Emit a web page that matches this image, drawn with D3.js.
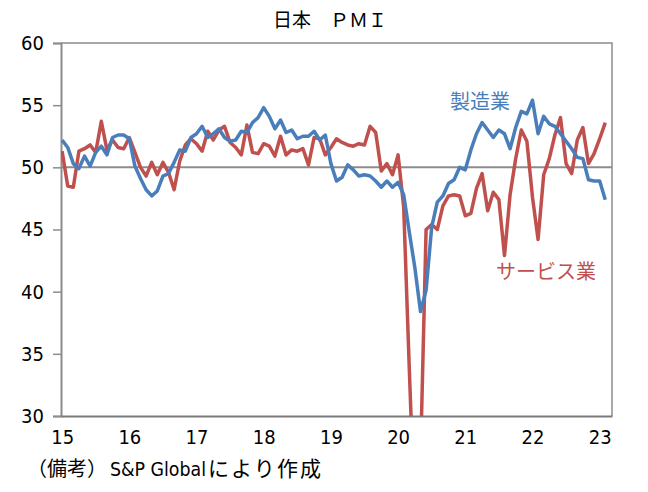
<!DOCTYPE html>
<html><head><meta charset="utf-8">
<script src="https://cdn.jsdelivr.net/npm/d3@7"></script>
<style>
html,body{margin:0;padding:0;background:#fff;}
svg{display:block;}
.num{font-family:"Liberation Sans Narrow","Arial Narrow","DejaVu Sans Condensed",sans-serif;font-size:20px;fill:#000;}
.jp{font-family:"Noto Sans CJK JP",sans-serif;}
</style></head>
<body>
<script>
const title = "日本　ＰＭＩ";
const noteParts = ["（備考）", "S&P Global", "により作成"];
const seriesNames = ["製造業", "サービス業"];
const yearLabels = ["15","16","17","18","19","20","21","22","23"];
const yTicks = [30,35,40,45,50,55,60];
// Manufacturing PMI, Jan 2015 - Feb 2023
const manufacturing = [
 52.2,51.6,50.3,49.9,50.9,50.1,51.2,51.7,51.0,52.4,52.6,52.6,
 52.3,50.1,49.1,48.2,47.7,48.1,49.3,49.5,50.4,51.4,51.3,52.4,
 52.7,53.3,52.4,52.7,53.1,52.4,52.1,52.2,52.9,52.8,53.6,54.0,
 54.8,54.1,53.1,53.8,52.8,53.0,52.3,52.5,52.5,52.9,52.2,52.6,
 50.3,48.9,49.2,50.2,49.8,49.3,49.4,49.3,48.9,48.4,48.9,48.4,
 48.8,47.8,44.8,41.9,38.4,40.1,45.2,47.2,47.7,48.7,49.0,50.0,
 49.8,51.4,52.7,53.6,53.0,52.4,53.0,52.7,51.5,53.2,54.5,54.3,
 55.4,52.7,54.1,53.5,53.3,52.7,52.1,51.5,50.8,50.7,49.0,48.9,
 48.9,47.4
];
// Services PMI, Jan 2015 - Feb 2023
const services = [
 51.3,48.5,48.4,51.3,51.5,51.8,51.2,53.7,51.4,52.2,51.6,51.5,
 52.4,51.2,50.0,49.3,50.4,49.4,50.4,49.6,48.2,50.5,51.8,52.3,
 51.9,51.3,52.9,52.2,53.0,53.3,52.0,51.6,51.0,53.4,51.2,51.1,
 51.9,51.7,50.9,52.5,51.0,51.4,51.3,51.5,50.2,52.4,52.3,51.0,
 51.6,52.3,52.0,51.8,51.7,51.9,51.8,53.3,52.8,49.7,50.3,49.4,
 51.0,46.8,33.8,21.5,26.5,45.0,45.4,45.0,46.9,47.7,47.8,47.7,
 46.1,46.3,48.3,49.5,46.5,48.0,47.4,42.9,47.8,50.7,53.0,52.1,
 47.6,44.2,49.4,50.7,52.6,54.0,50.3,49.5,52.2,53.2,50.3,51.1,
 52.3,53.6
];

const W = 648, H = 492;
const L = 61, R = 612, T = 43, B = 416;
const svg = d3.select("body").append("svg").attr("width", W).attr("height", H);

const x = d3.scaleLinear().domain([-0.2, 98.2]).range([L, R]);
const y = d3.scaleLinear().domain([30, 60]).range([B, T]);

// title
svg.append("text").attr("class","jp").attr("x", 330).attr("y", 27)
  .attr("text-anchor","middle").attr("font-size", 19).text(title);

// 50 reference line
svg.append("line").attr("x1", L).attr("x2", R).attr("y1", y(50)).attr("y2", y(50))
  .attr("stroke", "#8c8c8c").attr("stroke-width", 2);

// frame (top, right)
svg.append("path").attr("d", `M${L},${T}H${R}V${B}`).attr("fill","none")
  .attr("stroke","#8c8c8c").attr("stroke-width",1.5);

// y axis
const yAxis = svg.append("g").attr("transform", `translate(${L},0)`)
  .call(d3.axisLeft(y).tickValues(yTicks).tickSize(8).tickPadding(9).tickFormat(d3.format("d")));
yAxis.select(".domain").attr("stroke","#8c8c8c").attr("stroke-width",2);
yAxis.selectAll(".tick line").attr("stroke","#8c8c8c").attr("stroke-width",1.5);
yAxis.selectAll("text").attr("class","num").attr("font-size",null).attr("font-family",null);

// x axis
const xAxis = svg.append("g").attr("transform", `translate(0,${B})`)
  .call(d3.axisBottom(x).tickValues(yearLabels.map((d,i)=>i*12)).tickSize(0).tickPadding(14)
    .tickFormat((d,i)=>yearLabels[i]));
xAxis.select(".domain").attr("stroke","#7a7a7a").attr("stroke-width",2);
xAxis.selectAll("text").attr("class","num").attr("font-size",null).attr("font-family",null);

// clip
svg.append("clipPath").attr("id","clip").append("rect")
  .attr("x", L).attr("y", T).attr("width", R-L).attr("height", B-T);

const line = d3.line().x((d,i)=>x(i)).y(d=>y(d));
const g = svg.append("g").attr("clip-path","url(#clip)");
g.append("path").datum(services).attr("d", line).attr("fill","none")
  .attr("stroke","#C0504D").attr("stroke-width",3.5).attr("stroke-linejoin","round");
g.append("path").datum(manufacturing).attr("d", line).attr("fill","none")
  .attr("stroke","#4A7EBB").attr("stroke-width",3.5).attr("stroke-linejoin","round");

// series labels
svg.append("text").attr("class","jp").attr("x", 450).attr("y", 109)
  .attr("font-size", 20).attr("fill","#4A7EBB").text(seriesNames[0]);
svg.append("text").attr("class","jp").attr("x", 496).attr("y", 279)
  .attr("font-size", 20).attr("fill","#C0504D").text(seriesNames[1]);

// note
const note = svg.append("text").attr("y", 476);
note.append("tspan").attr("class","jp").attr("x", 27).attr("font-size", 20).text(noteParts[0]);
note.append("tspan").attr("class","num").attr("x", 110).attr("textLength", 96)
  .attr("lengthAdjust","spacingAndGlyphs").text(noteParts[1]);
note.append("tspan").attr("class","jp").attr("x", 208).attr("font-size", 21)
  .attr("textLength", 113).attr("lengthAdjust","spacing").text(noteParts[2]);
</script>
</body></html>
